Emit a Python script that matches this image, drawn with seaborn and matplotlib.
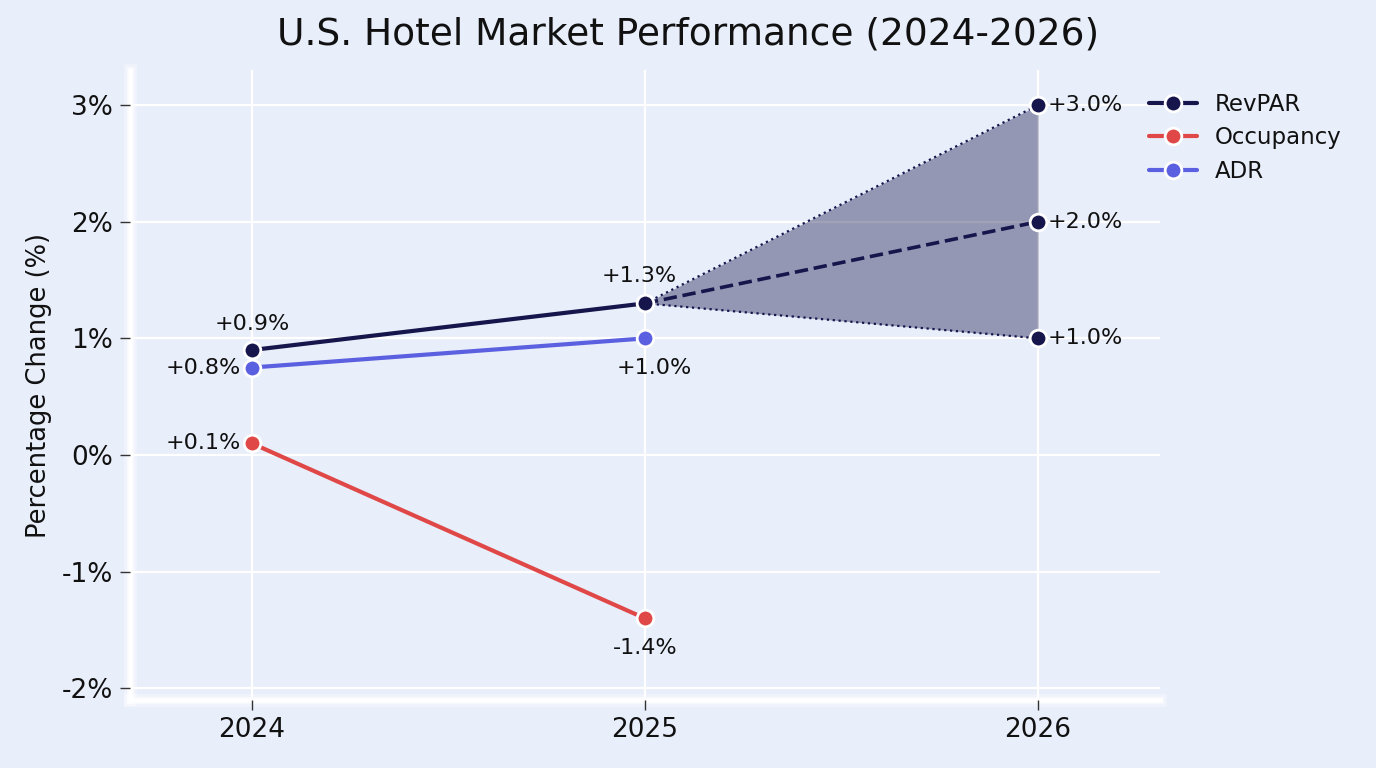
import numpy as np
import pandas as pd
import seaborn as sns
import matplotlib.pyplot as plt
import matplotlib.patheffects as pe

# Data
years = [2024, 2025]
forecast_years = [2025, 2026]
revpar = [0.9, 1.3]
occupancy = [0.1, -1.4]
adr = [0.75, 1.0]
revpar_forecast = [1.3, 2.0]
revpar_low = [1.3, 1.0]
revpar_high = [1.3, 3.0]

bg = '#E8EEFA'
navy = '#16164C'
red = '#E04848'
blue = '#5B60E0'

sns.set_theme(style='darkgrid', rc={
    'axes.facecolor': bg,
    'figure.facecolor': bg,
    'grid.color': 'white',
    'grid.linewidth': 1.6,
    'xtick.bottom': True,
    'ytick.left': True,
})
plt.rcParams['font.family'] = ['DejaVu Sans']

fig = plt.figure(figsize=(13.76, 7.68), dpi=100)
ax = fig.add_axes([0.0945, 0.0885, 0.7485, 0.8203])

# forecast range
ax.fill_between(forecast_years, revpar_low, revpar_high, color=navy, alpha=0.4, linewidth=0, zorder=1)
sns.lineplot(x=forecast_years, y=revpar_high, color=navy, linestyle=':', linewidth=1.6, ax=ax, zorder=2)
sns.lineplot(x=forecast_years, y=revpar_low, color=navy, linestyle=':', linewidth=1.6, ax=ax, zorder=2)
sns.lineplot(x=forecast_years, y=revpar_forecast, color=navy, linestyle='--', linewidth=2.6,
             dashes=(4, 2.5), ax=ax, zorder=3)

mk = dict(marker='o', markersize=12, markeredgecolor='white', markeredgewidth=2)
sns.lineplot(x=years, y=revpar, color=navy, linewidth=3, label='RevPAR', ax=ax, zorder=4, **mk)
sns.lineplot(x=years, y=occupancy, color=red, linewidth=3, label='Occupancy', ax=ax, zorder=4, **mk)
sns.lineplot(x=years, y=adr, color=blue, linewidth=3, label='ADR', ax=ax, zorder=4, **mk)

# 2026 forecast points
for v in [revpar_high[1], revpar_forecast[1], revpar_low[1]]:
    ax.plot(forecast_years[1], v, color=navy, linestyle='none', zorder=5, **mk)

fmt = lambda v: f'{v:+.1f}%'
tk = dict(textcoords='offset points', fontsize=16, color='#111111', va='center', zorder=6)
ax.annotate(fmt(revpar[0]), (years[0], revpar[0]), xytext=(0, 19), ha='center', **tk)
ax.annotate(fmt(adr[0]), (years[0], adr[0]), xytext=(-8, 0), ha='right', **tk)
ax.annotate(fmt(occupancy[0]), (years[0], occupancy[0]), xytext=(-8, 0), ha='right', **tk)
ax.annotate(fmt(revpar[1]), (years[1], revpar[1]), xytext=(-4, 20), ha='center', **tk)
ax.annotate(fmt(adr[1]), (years[1], adr[1]), xytext=(7, -21), ha='center', **tk)
ax.annotate(fmt(occupancy[1]), (years[1], occupancy[1]), xytext=(0, -21), ha='center', **tk)
for v in [revpar_high[1], revpar_forecast[1], revpar_low[1]]:
    ax.annotate(fmt(v), (forecast_years[1], v), xytext=(7, 0), ha='left', **tk)

ax.set_xlim(2023.69, 2026.31)
ax.set_ylim(-2.1, 3.3)
ax.set_xticks([2024, 2025, 2026])
ax.set_xticklabels(['2024', '2025', '2026'])
ax.set_yticks([-2, -1, 0, 1, 2, 3])
ax.set_yticklabels([f'{t}%' for t in [-2, -1, 0, 1, 2, 3]])
ax.tick_params(axis='both', which='major', labelsize=19, length=7, width=1,
               color='#333333', labelcolor='#111111', bottom=True, left=True, pad=5)
ax.set_xlabel('')
ax.set_ylabel('Percentage Change (%)', fontsize=18.5, color='#111111')
ax.yaxis.set_label_coords(-0.076, 0.5)

for side in ['top', 'right']:
    ax.spines[side].set_visible(False)
for side in ['left', 'bottom']:
    sp = ax.spines[side]
    sp.set_visible(True)
    sp.set_color('white')
    sp.set_linewidth(2.5)
    sp.set_zorder(0.3)
    sp.set_path_effects([
        pe.Stroke(linewidth=9, foreground='white', alpha=0.35),
        pe.Stroke(linewidth=5, foreground='white', alpha=0.6),
        pe.Normal()])

ax.legend(loc='upper left', bbox_to_anchor=(0.98, 0.978), frameon=False, fontsize=16.5,
          handlelength=2.1, labelspacing=0.45, borderaxespad=0, labelcolor='#111111')

fig.suptitle('U.S. Hotel Market Performance (2024-2026)', fontsize=27, color='#111111', y=0.978)

fig.savefig('out.png', dpi=100, facecolor=bg)
